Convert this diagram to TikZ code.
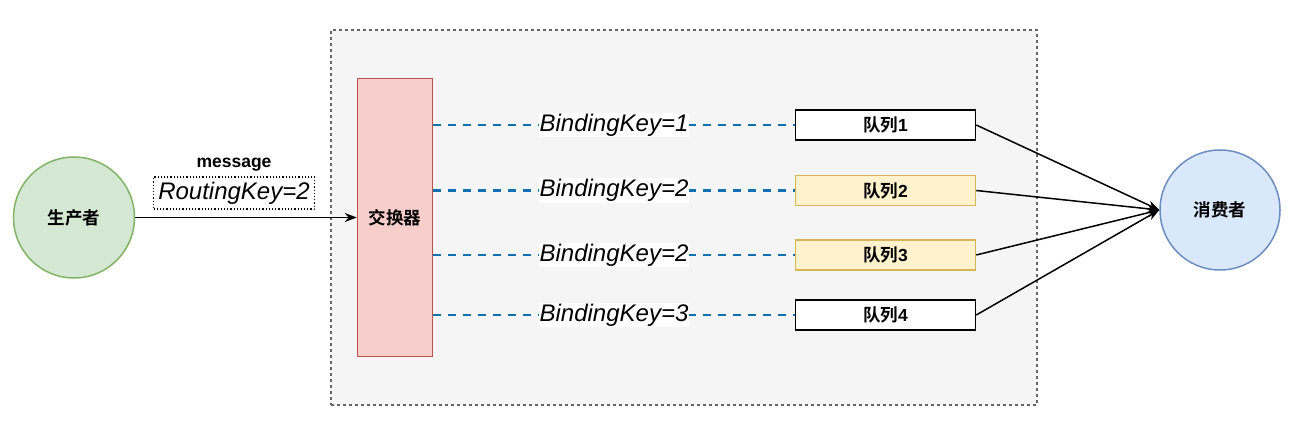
\documentclass[tikz,border=0pt]{standalone}
\usepackage{fontspec}
\setmainfont{Liberation Sans}
\newfontfamily\cjk{Noto Sans CJK SC}[BoldFont={Noto Sans CJK SC Bold}]
\usetikzlibrary{arrows.meta}
\definecolor{pgreen}{HTML}{D5E8D4}
\definecolor{sgreen}{HTML}{82B366}
\definecolor{pblue}{HTML}{DAE8FC}
\definecolor{sblue}{HTML}{6C8EBF}
\definecolor{pred}{HTML}{F8CECC}
\definecolor{sred}{HTML}{B85450}
\definecolor{pyellow}{HTML}{FFF2CC}
\definecolor{syellow}{HTML}{D6B656}
\definecolor{bindblue}{HTML}{1070B0}
\tikzset{
	small/.style = {font=\fontsize{17.5}{20}\selectfont\bfseries},
	keytext/.style = {font=\fontsize{24}{28}\selectfont\itshape},
	queue/.style = {rectangle, draw, fill=white, minimum width=180pt, minimum height=30pt, inner sep=0pt, small},
	bind/.style = {draw=bindblue, line width=2.6pt, dash pattern=on 8pt off 7pt}
}
\begin{document}
\begin{tikzpicture}[x=1pt, y=-1pt, line width=1.5pt, >={Stealth[length=12pt,width=9pt]}]
	\useasboundingbox (0,0) rectangle (1303,438);
	\node (frame) at (684, 217.5)	[rectangle, draw=black!60, fill=black!4, line width=1.2pt, dash pattern=on 3pt off 3pt, minimum width=706pt, minimum height=375pt]	{};
	\node (P) at (74, 217.5)	[circle, draw=sgreen, fill=pgreen, minimum size=121pt, inner sep=0pt, small]	{\cjk 生产者};
	\node (C) at (1220, 210)	[circle, draw=sblue, fill=pblue, minimum size=120pt, inner sep=0pt, small]	{\cjk 消费者};
	\node (X) at (395, 217.5)	[rectangle, draw=sred, fill=pred, minimum width=75pt, minimum height=278pt, inner sep=0pt, small]	{\cjk 交换器};
	\node (Q1) at (885.5, 125)	[queue]	{{\cjk 队列}1};
	\node (Q2) at (885.5, 190.5)	[queue, draw=syellow, fill=pyellow]	{{\cjk 队列}2};
	\node (Q3) at (885.5, 255)	[queue, draw=syellow, fill=pyellow]	{{\cjk 队列}3};
	\node (Q4) at (885.5, 315)	[queue]	{{\cjk 队列}4};
	\node (msg) at (234, 165)	[small]	{message};
	\node (rk) at (234, 193)	[draw, line width=1.2pt, dotted, minimum width=161pt, minimum height=32pt, inner sep=0pt, keytext]	{RoutingKey=2};
	\draw[->] (P) -- (X);
	\draw[bind] (X.east |- Q1) -- node[keytext, fill=white, inner sep=1pt] {BindingKey=1} (Q1.west);
	\draw[bind] (X.east |- Q2) -- node[keytext, fill=white, inner sep=1pt] {BindingKey=2} (Q2.west);
	\draw[bind] (X.east |- Q3) -- node[keytext, fill=white, inner sep=1pt] {BindingKey=2} (Q3.west);
	\draw[bind] (X.east |- Q4) -- node[keytext, fill=white, inner sep=1pt] {BindingKey=3} (Q4.west);
	\draw[->] (Q1.east) -- (C.west);
	\draw[->] (Q2.east) -- (C.west);
	\draw[->] (Q3.east) -- (C.west);
	\draw[->] (Q4.east) -- (C.west);
\end{tikzpicture}
\end{document}
